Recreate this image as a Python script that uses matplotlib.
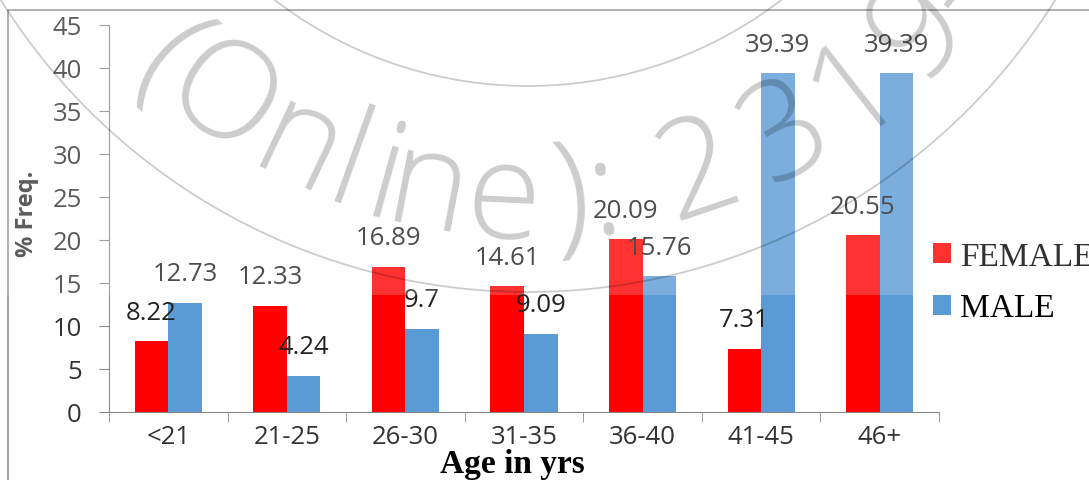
import numpy as np
import matplotlib
matplotlib.use("Agg")
from matplotlib import pyplot as plt
from matplotlib.lines import Line2D
from matplotlib.patches import Rectangle

# ---------------- datos
grupos = ["<21", "21-25", "26-30", "31-35", "36-40", "41-45", "46+"]
female = [8.22, 12.33, 16.89, 14.61, 20.09, 7.31, 20.55]
male = [12.73, 4.24, 9.7, 9.09, 15.76, 39.39, 39.39]
series = ["FEMALE", "MALE"]
yTicks = [0, 5, 10, 15, 20, 25, 30, 35, 40, 45]

rojo = "#FF0000"
azul = "#5B9BD5"
W, H = 1089, 481

plt.rcParams["font.family"] = ["Open Sans", "DejaVu Sans"]

miFigura = plt.figure(figsize=(W / 100, H / 100), dpi=100)
ax = miFigura.add_axes([109 / W, 1 - 413 / H, 830 / W, 387 / H])

x = np.arange(len(grupos))
ancho = 0.283
b1 = ax.bar(x - ancho / 2, female, ancho, color=rojo, label=series[0], zorder=2)
b2 = ax.bar(x + ancho / 2, male, ancho, color=azul, label=series[1], zorder=2)

for barras, valores in [(b1, female), (b2, male)]:
    for rect, v in zip(barras, valores):
        ax.annotate("{:g}".format(v), (rect.get_x() + rect.get_width() / 2, v),
                    xytext=(0, 21), textcoords="offset points",
                    ha="center", va="center", fontsize=18.5, color="#222222", zorder=5)

ax.set_xlim(-0.5, len(grupos) - 0.5)
ax.set_ylim(0, 45)
ax.set_yticks(yTicks)
ax.set_xticks(x)
ax.set_xticklabels(grupos)
ax.set_xticks(np.arange(-0.5, len(grupos)), minor=True)
ax.tick_params(axis="x", which="major", length=0, pad=9, labelsize=18.5, labelcolor="#333333")
ax.tick_params(axis="x", which="minor", length=7.5, color="#888888", direction="out")
ax.tick_params(axis="y", length=7.5, color="#888888", pad=12, labelsize=18.5, labelcolor="#333333")
for lado in ["top", "right"]:
    ax.spines[lado].set_visible(False)
for lado in ["left", "bottom"]:
    ax.spines[lado].set_color("#888888")
ax.set_facecolor("none")

miFigura.text(27 / W, 1 - 213.5 / H, "% Freq.", rotation=90, ha="center", va="center",
              fontsize=17, fontweight="bold", color="#333333")
miFigura.text(512 / W, 1 - 464 / H, "Age in yrs", ha="center", va="center",
              fontsize=24, fontweight="bold", family="Liberation Serif", color="black")

miFigura.legend(handles=[b1, b2], labels=series, loc="center left",
                bbox_to_anchor=(933 / W, 1 - 283.5 / H), frameon=False,
                prop={"family": "Liberation Serif", "size": 24},
                handlelength=0.55, handleheight=0.55, handletextpad=0.25,
                labelspacing=0.62, borderpad=0, borderaxespad=0)

# marco del grafico
miFigura.add_artist(Rectangle((8 / W, -0.1), 1.2, 1 - 11 / H + 0.1, transform=miFigura.transFigure,
                              fill=False, edgecolor="#8c8c8c", lw=1.2, zorder=0))

# banda clara de la marca de agua
miFigura.add_artist(Rectangle((0, 1 - 296 / H), 1, 296 / H, transform=miFigura.transFigure,
                              facecolor="white", alpha=0.2, edgecolor="none", zorder=10))

# marca de agua en arco
cx, cy = 528, H + 329
for r in [416, 622]:
    t = np.linspace(np.radians(-175), np.radians(-5), 400)
    px = cx + r * np.cos(t)
    py = cy + r * np.sin(t)
    miFigura.add_artist(Line2D(px / W, py / H, transform=miFigura.transFigure,
                               color="black", alpha=0.2, lw=1.3, zorder=11))

letras = list("(Online):2319-")
angulos = [-132.5, -125.5, -115.5, -109.7, -105.5, -100.8, -92.7, -85.3, -81.8,
           -71.3, -60.8, -51.9, -42.5, -36.7]
for ch, a in zip(letras, angulos):
    r = 568
    px = cx + r * np.cos(np.radians(a))
    py = cy + r * np.sin(np.radians(a))
    miFigura.text(px / W, py / H, ch, rotation=a + 90, rotation_mode="anchor",
                  ha="center", va="baseline", fontsize=98, color="black", alpha=0.2,
                  fontweight="light", zorder=12)

miFigura.savefig("out.png", dpi=100)
